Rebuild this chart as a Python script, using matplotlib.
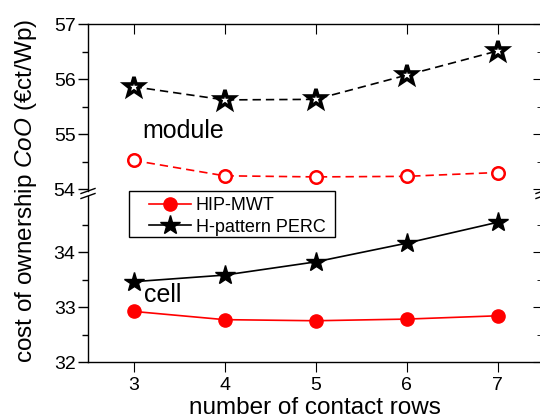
import matplotlib
matplotlib.use('Agg')
import matplotlib.pyplot as plt
from matplotlib.lines import Line2D
from matplotlib.patches import Rectangle
from matplotlib.markers import MarkerStyle
import numpy as np

plt.rcParams['font.family'] = ['Liberation Sans', 'DejaVu Sans']
plt.rcParams['mathtext.fontset'] = 'custom'
plt.rcParams['mathtext.it'] = 'Liberation Sans:italic'
plt.rcParams['mathtext.rm'] = 'Liberation Sans'

# data
rows = [3, 4, 5, 6, 7]
hip_module = [54.52, 54.24, 54.22, 54.23, 54.30]
perc_module = [55.86, 55.62, 55.63, 56.07, 56.51]
hip_cell = [32.92, 32.77, 32.75, 32.78, 32.84]
perc_cell = [33.46, 33.58, 33.82, 34.16, 34.54]
labels = ['HIP-MWT', 'H-pattern PERC']

W, H = 540, 419
fig = plt.figure(figsize=(W/100, H/100), dpi=100)

def fx(px):
    return px / W

def fy(py):
    return 1 - py / H

left, right = 88, 543
top, bottom = 24, 362
brk_hi, brk_lo = 191, 196
ppu = 55.0  # pixels per y unit

ax_up = fig.add_axes([fx(left), fy(brk_hi), fx(right) - fx(left), fy(top) - fy(brk_hi)])
ax_lo = fig.add_axes([fx(left), fy(bottom), fx(right) - fx(left), fy(brk_lo) - fy(bottom)])

ax_up.set_ylim(57 - (brk_hi - top) / ppu, 57)
ax_lo.set_ylim(32, 32 + (bottom - brk_lo) / ppu)

red = '#ff0000'
dash = (0, (5, 3))
star = MarkerStyle('*', joinstyle='miter')
ax_up.plot(rows, perc_module, color='black', lw=1.2, ls=dash, marker=star, ms=14,
           mfc='white', mec='black', mew=2.6)
ax_up.plot(rows, hip_module, color=red, lw=1.2, ls=dash, marker='o', ms=9,
           mfc='white', mec=red, mew=1.8)
l1, = ax_lo.plot(rows, hip_cell, color=red, lw=1.2, marker='o', ms=9.5, mfc=red, mec=red)
l2, = ax_lo.plot(rows, perc_cell, color='black', lw=1.2, marker=star, ms=15,
                 mfc='black', mec='black')

for ax in (ax_up, ax_lo):
    ax.set_xlim(2.5, 7.5)
    ax.set_xticks(rows)
    ax.tick_params(axis='y', which='both', direction='out', labelsize=14, width=1, pad=2)
    ax.tick_params(axis='y', which='major', length=7)
    ax.tick_params(axis='y', which='minor', length=4)
    for s in ax.spines.values():
        s.set_linewidth(1.0)

ax_up.set_yticks([54, 55, 56, 57])
ax_up.set_yticks([54.5, 55.5, 56.5], minor=True)
ax_lo.set_yticks([32, 33, 34])
ax_lo.set_yticks([32.5, 33.5, 34.5], minor=True)

ax_up.spines['bottom'].set_visible(False)
ax_lo.spines['top'].set_visible(False)
ax_up.tick_params(axis='x', which='both', bottom=False, labelbottom=False,
                  top=True, direction='in', length=7)
ax_lo.tick_params(axis='x', which='both', top=False, direction='out', length=7,
                  labelsize=14, pad=4)

# right side inward ticks
for ax in (ax_up, ax_lo):
    twin = ax.secondary_yaxis('right')
    twin.set_yticks(ax.get_yticks())
    twin.set_yticks(ax.get_yticks(minor=True), minor=True)
    twin.tick_params(which='both', direction='in', labelright=False)
    twin.tick_params(which='major', length=7)
    twin.tick_params(which='minor', length=4)

# break marks
for y0 in (brk_hi, brk_lo):
    for x0 in (left, right):
        fig.add_artist(Line2D([fx(x0 - 7), fx(x0 + 7)], [fy(y0 + 2.5), fy(y0 - 2.5)],
                              color='black', lw=1.0))

# legend with square box
fig.add_artist(Rectangle((fx(129), fy(237)), fx(335) - fx(129), fy(191) - fy(237),
                         fill=False, edgecolor='black', lw=1.0))
fig.legend([l1, l2], labels, loc='upper left', bbox_to_anchor=(fx(149), fy(197)),
           frameon=False, fontsize=13, borderpad=0, borderaxespad=0,
           handlelength=2.3, handletextpad=0.3, labelspacing=0.25)

fig.text(fx(142), fy(138), 'module', fontsize=18, va='baseline', ha='left')
fig.text(fx(144), fy(302), 'cell', fontsize=18, va='baseline', ha='left')

fig.text(fx(315), fy(414), 'number of contact rows', fontsize=17.5, ha='center', va='baseline')
fig.text(fx(26), fy(191), r'cost of ownership $CoO$ (€ct/Wp)', fontsize=17.5,
         rotation=90, ha='center', va='center')

fig.savefig('out.png', dpi=100)
